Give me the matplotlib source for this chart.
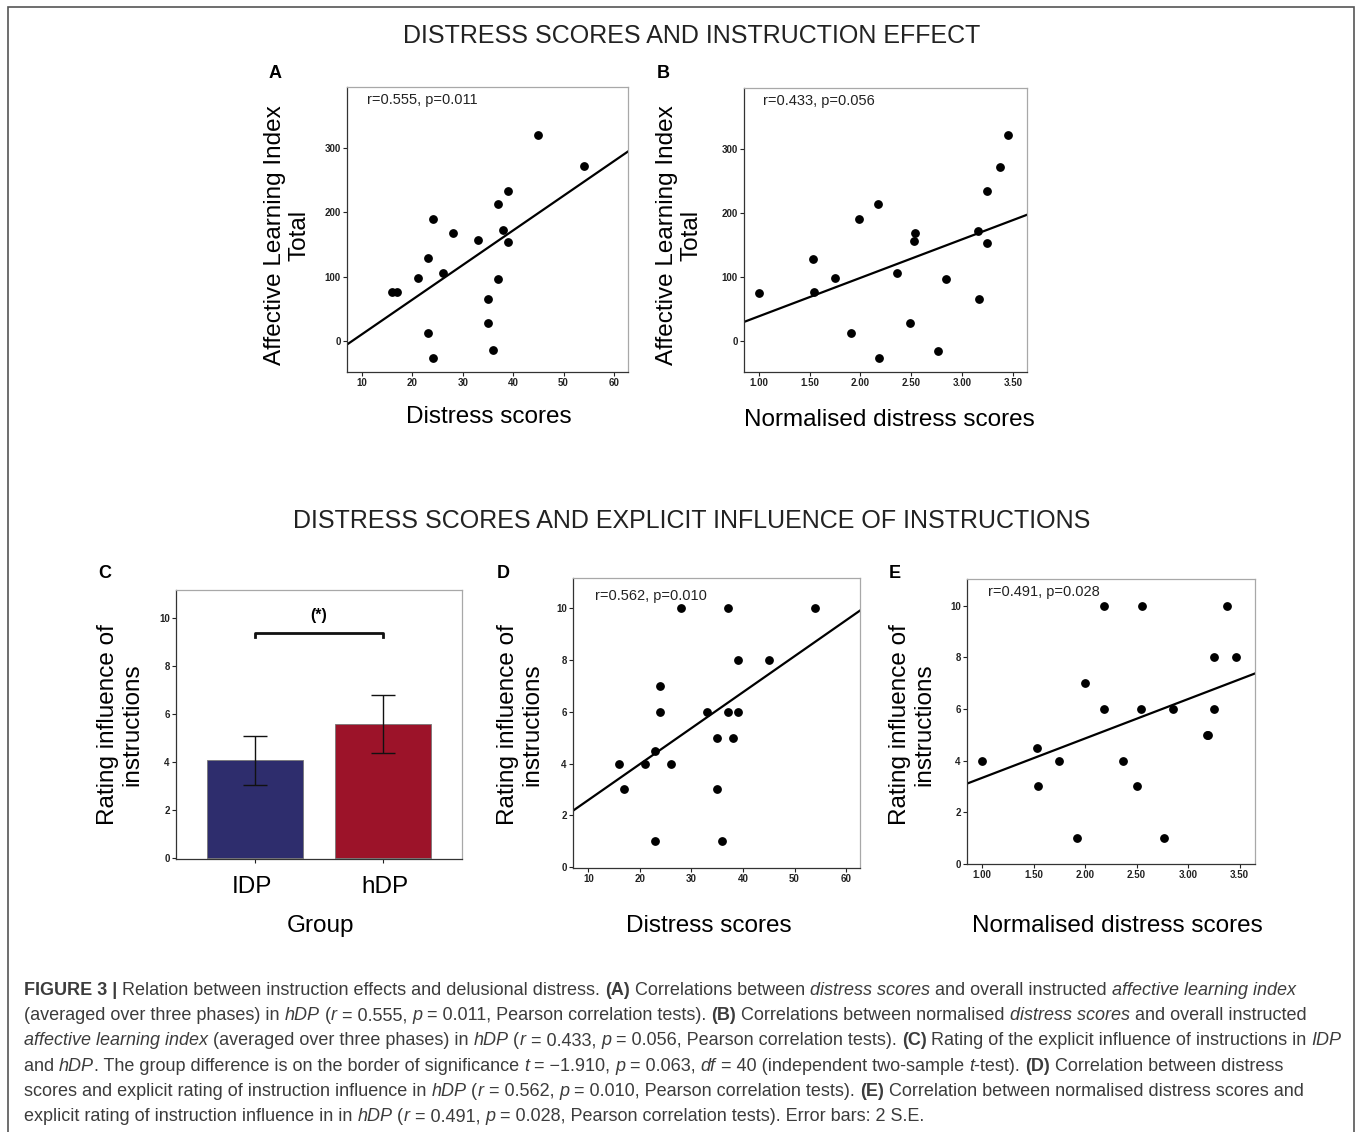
import numpy as np
import matplotlib
matplotlib.use("Agg")
import matplotlib.pyplot as plt
from matplotlib.patches import Rectangle

plt.rcParams["font.family"] = ["Liberation Sans", "DejaVu Sans"]

# -----------------------------
# data
# -----------------------------
# A: distress scores vs affective learning index
a_distress = [45, 54, 39, 37, 24, 28, 33, 38, 39, 23, 21, 26, 37, 16, 17, 35, 35, 23, 36, 24]
a_ali = [320, 271, 232, 213, 190, 168, 157, 172, 153, 129, 98, 105, 96, 76, 76, 65, 28, 12, -14, -26]

# B: normalised distress vs affective learning index
b_norm = [1.00, 1.53, 1.54, 1.75, 1.91, 1.99, 2.17, 2.18, 2.36, 2.49,
          2.54, 2.53, 2.76, 2.84, 3.16, 3.17, 3.24, 3.24, 3.37, 3.45]
b_ali = [75, 128, 76, 98, 12, 190, 213, -27, 105, 27, 168, 156, -16, 96, 172, 65, 153, 234, 272, 322]

# C: rating of instruction influence per group
groups = ["IDP", "hDP"]
group_means = [4.07, 5.58]
group_err = [1.03, 1.22]
group_colors = ["#2e2d6d", "#9c1329"]

# D: distress scores vs rating
d_distress = [28, 37, 54, 39, 45, 24, 24, 33, 37, 39, 35, 38, 23, 16, 21, 26, 17, 35, 23, 36]
d_rating = [10, 10, 10, 8, 8, 7, 6, 6, 6, 6, 5, 5, 4.5, 4, 4, 4, 3, 3, 1, 1]

# E: normalised distress vs rating
e_norm = [1.00, 1.53, 1.54, 1.75, 1.92, 2.00, 2.18, 2.18, 2.37, 2.50,
          2.55, 2.54, 2.77, 2.85, 3.18, 3.19, 3.25, 3.25, 3.38, 3.46]
e_rating = [4, 4.5, 3, 4, 1, 7, 10, 6, 4, 3, 10, 6, 1, 6, 5, 5, 8, 6, 10, 8]

stats_text = {"A": "r=0.555, p=0.011", "B": "r=0.433, p=0.056",
              "D": "r=0.562, p=0.010", "E": "r=0.491, p=0.028"}

# -----------------------------
# figure helpers (pixel layout)
# -----------------------------
W, H = 1357, 1132
fig = plt.figure(figsize=(W / 100, H / 100), dpi=100)
fig.patch.set_facecolor("white")


def ax_at(l, t, r, b):
    return fig.add_axes([l / W, 1 - b / H, (r - l) / W, (b - t) / H])


def ftext(x, y, s, **kw):
    return fig.text(x / W, 1 - y / H, s, **kw)


def style(ax):
    for s in ["top", "right"]:
        ax.spines[s].set_color("#a8a8a8")
    for s in ["left", "bottom"]:
        ax.spines[s].set_color("#333333")
    for s in ax.spines.values():
        s.set_linewidth(0.9)
    ax.tick_params(direction="out", length=3, width=0.8, labelsize=7, pad=1.5, colors="#222222")
    for lab in ax.get_xticklabels() + ax.get_yticklabels():
        lab.set_fontweight("bold")


def scatter_panel(ax, x, y, xlim, ylim, xticks, yticks, xfmt, label, tx, ty):
    ax.plot(x, y, "o", color="black", markersize=5.3, zorder=3)
    k, c = np.polyfit(x, y, 1)
    xs = np.array(xlim)
    ax.plot(xs, k * xs + c, color="black", linewidth=1.6, zorder=2)
    ax.set_xlim(xlim)
    ax.set_ylim(ylim)
    ax.set_xticks(xticks)
    ax.set_xticklabels([xfmt.format(v) for v in xticks])
    ax.set_yticks(yticks)
    ax.text(tx, ty, label, transform=ax.transAxes, fontsize=10.5, va="center", color="#222222")
    style(ax)


# outer frame
fig.patches.append(Rectangle((8 / W, -0.02), (1354 - 8) / W, 1 - 6.7 / H + 0.02,
                             transform=fig.transFigure, fill=False,
                             edgecolor="#555555", linewidth=1.2))

# section titles
ftext(692, 36, "DISTRESS SCORES AND INSTRUCTION EFFECT", fontsize=18, ha="center", va="center", color="#222222")
ftext(692, 521, "DISTRESS SCORES AND EXPLICIT INFLUENCE OF INSTRUCTIONS", fontsize=18,
      ha="center", va="center", color="#222222")

# -----------------------------
# A
# -----------------------------
axA = ax_at(347, 87, 628, 372)
scatter_panel(axA, a_distress, a_ali, (7, 62.8), (-48, 394), [10, 20, 30, 40, 50, 60],
              [0, 100, 200, 300], "{:d}", stats_text["A"], 0.07, 0.954)
ftext(275, 73, "A", fontsize=13, fontweight="bold", ha="center", va="center")
ftext(287, 235, "Affective Learning Index\nTotal", fontsize=17.5, rotation=90,
      ha="center", va="center", linespacing=1.15, multialignment="center")
ftext(489, 417, "Distress scores", fontsize=17.5, ha="center", va="center")

# -----------------------------
# B
# -----------------------------
axB = ax_at(744, 88, 1027, 372)
scatter_panel(axB, b_norm, b_ali, (0.855, 3.638), (-49, 395), [1.0, 1.5, 2.0, 2.5, 3.0, 3.5],
              [0, 100, 200, 300], "{:.2f}", stats_text["B"], 0.066, 0.954)
ftext(663, 73, "B", fontsize=13, fontweight="bold", ha="center", va="center")
ftext(679, 235, "Affective Learning Index\nTotal", fontsize=17.5, rotation=90,
      ha="center", va="center", linespacing=1.15, multialignment="center")
ftext(889, 420, "Normalised distress scores", fontsize=17.5, ha="center", va="center")

# -----------------------------
# C
# -----------------------------
axC = ax_at(176, 590, 462, 859)
xpos = np.arange(len(groups))
axC.bar(xpos, group_means, width=0.755, color=group_colors, edgecolor="#777777", linewidth=0.6, zorder=2)
axC.errorbar(xpos, group_means, yerr=group_err, fmt="none", ecolor="#111111",
             elinewidth=1.0, capsize=8.5, capthick=1.0, zorder=3)
axC.plot([0, 0, 1, 1], [9.2, 9.38, 9.38, 9.2], color="#111111", linewidth=2)
axC.text(0.5, 10.1, "(*)", fontsize=11.5, fontweight="bold", ha="center", va="center")
axC.set_xlim(-0.62, 1.62)
axC.set_ylim(-0.03, 11.15)
axC.set_yticks([0, 2, 4, 6, 8, 10])
axC.set_xticks(xpos)
axC.set_xticklabels([])
style(axC)
for xp, g in zip([252, 385], groups):
    ftext(xp, 887, g, fontsize=17.5, ha="center", va="center")
ftext(105, 573, "C", fontsize=13, fontweight="bold", ha="center", va="center")
ftext(120, 725, "Rating influence of\ninstructions", fontsize=17.5, rotation=90,
      ha="center", va="center", linespacing=1.15, multialignment="center")
ftext(320, 926, "Group", fontsize=17.5, ha="center", va="center")

# -----------------------------
# D
# -----------------------------
axD = ax_at(573, 578, 860, 868)
scatter_panel(axD, d_distress, d_rating, (7.03, 62.7), (-0.03, 11.16), [10, 20, 30, 40, 50, 60],
              [0, 2, 4, 6, 8, 10], "{:d}", stats_text["D"], 0.077, 0.939)
ftext(503, 573, "D", fontsize=13, fontweight="bold", ha="center", va="center")
ftext(520, 725, "Rating influence of\ninstructions", fontsize=17.5, rotation=90,
      ha="center", va="center", linespacing=1.15, multialignment="center")
ftext(709, 926, "Distress scores", fontsize=17.5, ha="center", va="center")

# -----------------------------
# E
# -----------------------------
axE = ax_at(967, 579, 1255, 864)
scatter_panel(axE, e_norm, e_rating, (0.854, 3.649), (0, 11.03), [1.0, 1.5, 2.0, 2.5, 3.0, 3.5],
              [0, 2, 4, 6, 8, 10], "{:.2f}", stats_text["E"], 0.074, 0.953)
ftext(895, 573, "E", fontsize=13, fontweight="bold", ha="center", va="center")
ftext(912, 725, "Rating influence of\ninstructions", fontsize=17.5, rotation=90,
      ha="center", va="center", linespacing=1.15, multialignment="center")
ftext(1117, 926, "Normalised distress scores", fontsize=17.5, ha="center", va="center")

# -----------------------------
# caption (mixed styles per line)
# -----------------------------
n, b, i = "n", "b", "i"
caption = [
    [("FIGURE 3 | ", b), ("Relation between instruction effects and delusional distress. ", n), ("(A)", b),
     (" Correlations between ", n), ("distress scores", i), (" and overall instructed ", n),
     ("affective learning index", i)],
    [("(averaged over three phases) in ", n), ("hDP", i), (" (", n), ("r", i), (" = 0.555, ", n), ("p", i),
     (" = 0.011, Pearson correlation tests). ", n), ("(B)", b), (" Correlations between normalised ", n),
     ("distress scores", i), (" and overall instructed", n)],
    [("affective learning index", i), (" (averaged over three phases) in ", n), ("hDP", i), (" (", n),
     ("r", i), (" = 0.433, ", n), ("p", i), (" = 0.056, Pearson correlation tests). ", n), ("(C)", b),
     (" Rating of the explicit influence of instructions in ", n), ("IDP", i)],
    [("and ", n), ("hDP", i), (". The group difference is on the border of significance ", n), ("t", i),
     (" = \u22121.910, ", n), ("p", i), (" = 0.063, ", n), ("df", i), (" = 40 (independent two-sample ", n),
     ("t", i), ("-test). ", n), ("(D)", b), (" Correlation between distress", n)],
    [("scores and explicit rating of instruction influence in ", n), ("hDP", i), (" (", n), ("r", i),
     (" = 0.562, ", n), ("p", i), (" = 0.010, Pearson correlation tests). ", n), ("(E)", b),
     (" Correlation between normalised distress scores and", n)],
    [("explicit rating of instruction influence in in ", n), ("hDP", i), (" (", n), ("r", i),
     (" = 0.491, ", n), ("p", i), (" = 0.028, Pearson correlation tests). Error bars: 2 S.E.", n)],
]

cap_fs = 13
cap_color = "#3c3c3c"
renderer = fig.canvas.get_renderer()


def seg_props(st):
    return dict(fontsize=cap_fs, color=cap_color,
                fontweight="bold" if st == b else "normal",
                fontstyle="italic" if st == i else "normal")


def seg_width(txt, st):
    # sentinel bars so leading/trailing spaces are counted
    t1 = fig.text(0, 0, "|" + txt + "|", **seg_props(st))
    t2 = fig.text(0, 0, "||", **seg_props(st))
    w = t1.get_window_extent(renderer).width - t2.get_window_extent(renderer).width
    t1.remove()
    t2.remove()
    return w


for li, segs in enumerate(caption):
    x = 24
    y = 995 + li * 25.2
    for txt, st in segs:
        ftext(x, y, txt, va="baseline", ha="left", **seg_props(st))
        x += seg_width(txt, st)

fig.savefig("out.png", dpi=100)
